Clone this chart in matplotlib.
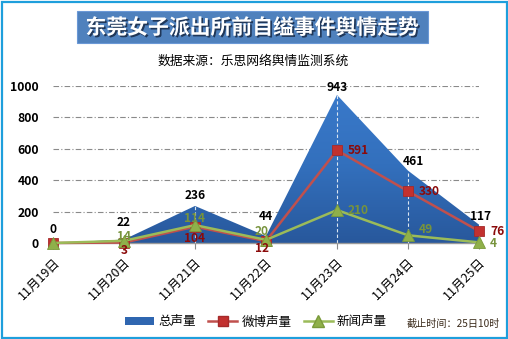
import numpy as np
import matplotlib
matplotlib.use("Agg")
import matplotlib.pyplot as plt
import matplotlib.patheffects as pe
from matplotlib.colors import LinearSegmentedColormap
from matplotlib.patches import Rectangle
from matplotlib.lines import Line2D

plt.rcParams['font.family'] = ['Noto Sans CJK SC', 'DejaVu Sans']

# ---- data ----
dates = ["11月19日", "11月20日", "11月21日", "11月22日", "11月23日", "11月24日", "11月25日"]
total_volume = [0, 22, 236, 44, 943, 461, 117]
weibo_volume = [0, 3, 104, 12, 591, 330, 76]
news_volume = [0, 14, 114, 20, 210, 49, 4]
y_ticks = [0, 200, 400, 600, 800, 1000]

title = "东莞女子派出所前自缢事件舆情走势"
subtitle = "数据来源：乐思网络舆情监测系统"
series_names = ["总声量", "微博声量", "新闻声量"]
cutoff_note = "截止时间：25日10时"

# label offsets in pixels (dx, dy) for each category
total_offsets = [(0, 7), (0, 11), (0, 4), (0, 13), (0, 1), (5, 3), (2, 2)]
weibo_offsets = [None, (0, -1), (0, -5), (-4, -1), (11, 0), (11, 0), (11, 0)]
news_offsets = [None, (0, -2), (0, 0), (-4, 2), (11, 0), (11, 6), (11, -1)]

W, H = 508, 339
fig = plt.figure(figsize=(W / 100, H / 100), dpi=100)
fig.patch.set_facecolor("white")

# outer frame
fig.add_artist(Rectangle((1.5 / W, 1.5 / H), (W - 3) / W, (H - 3) / H,
                         transform=fig.transFigure, fill=False,
                         edgecolor="#1e9fdc", lw=1.6))

# title banner
fig.add_artist(Rectangle((77 / W, 1 - 43 / H), 351 / W, 32 / H,
                         transform=fig.transFigure, facecolor="#4f81bd",
                         edgecolor="#6a98d6", lw=0.8))
fig.text(252.5 / W, 1 - 27.5 / H, title, ha="center", va="center",
         color="white", fontsize=15, fontweight="bold",
         path_effects=[pe.SimplePatchShadow(offset=(1.2, -1.2),
                                            shadow_rgbFace="#1b2f4d", alpha=0.9),
                       pe.Normal()])
fig.text(253 / W, 1 - 61 / H, subtitle, ha="center", va="center",
         color="black", fontsize=9.2)

# plotting area
ax = fig.add_axes([53 / W, (H - 243) / H, (479 - 53) / W, (243 - 86) / H])
ax.set_facecolor("none")
x = np.arange(len(dates))
ymax = y_ticks[-1]

# area with a soft vertical gradient
poly = ax.fill_between(x, total_volume, 0, facecolor="none", lw=0, zorder=1)
grad = np.linspace(0, 1, 256).reshape(-1, 1)
cmap = LinearSegmentedColormap.from_list("area", ["#28589c", "#3370bd", "#3a7acb"])
im = ax.imshow(grad, extent=[x[0], x[-1], 0, ymax], origin="lower",
               aspect="auto", cmap=cmap, zorder=1)
im.set_clip_path(poly.get_paths()[0], transform=ax.transData)

# drop lines inside the area
ax.vlines(x, 0, total_volume, colors="#dbe6f2", linestyles=(0, (3, 2)),
          lw=0.8, zorder=2)

# horizontal grid
for yv in y_ticks[1:]:
    ax.axhline(yv, color="#8a8a8a", lw=0.8, ls=(0, (5, 2, 1, 2)), zorder=0)

# lines
ax.plot(x, weibo_volume, color="#c0504d", lw=1.8, marker="s", ms=7.5,
        mfc="#c2312f", mec="#a52a2a", mew=0.6, zorder=4, clip_on=False)
ax.plot(x, news_volume, color="#9bbb59", lw=1.8, marker="^", ms=8,
        mfc="#8fb04a", mec="#7a9a3a", mew=0.6, zorder=5, clip_on=False)

ax.set_xlim(x[0], x[-1])
ax.set_ylim(0, ymax)
ax.set_yticks(y_ticks)
ax.set_yticklabels([str(v) for v in y_ticks], fontsize=8.8, fontweight="bold")
ax.tick_params(axis="y", length=0, pad=10)
ax.set_xticks(x)
ax.set_xticklabels(dates, rotation=45, ha="right", va="top",
                   rotation_mode="anchor", fontsize=9)
ax.tick_params(axis="x", length=4, color="#8a8a8a", pad=5)
for s in ["top", "right", "left"]:
    ax.spines[s].set_visible(False)
ax.spines["bottom"].set_color("#9a9a9a")
ax.spines["bottom"].set_linewidth(1.0)
ax.spines["bottom"].set_zorder(3)

# value labels
lab_kw = dict(textcoords="offset pixels", fontsize=8.6, fontweight="bold",
              annotation_clip=False, zorder=6)
for i, v in enumerate(total_volume):
    ax.annotate(str(v), (x[i], v), xytext=total_offsets[i], ha="center",
                va="bottom", color="black", **lab_kw)
for i in range(1, len(x)):
    w, n = weibo_volume[i], news_volume[i]
    if i < 4:
        ax.annotate(str(w), (x[i], w), xytext=weibo_offsets[i], ha="center",
                    va="top", color="#8b0a0a", **lab_kw)
        ax.annotate(str(n), (x[i], n), xytext=news_offsets[i], ha="center",
                    va="bottom", color="#77933c", **lab_kw)
    else:
        ax.annotate(str(w), (x[i], w), xytext=weibo_offsets[i], ha="left",
                    va="center", color="#8b0a0a", **lab_kw)
        ax.annotate(str(n), (x[i], n), xytext=news_offsets[i], ha="left",
                    va="center", color="#77933c", **lab_kw)

# legend
handles = [
    Rectangle((0, 0), 1, 1, facecolor="#2f66b0", edgecolor="none"),
    Line2D([], [], color="#c0504d", lw=1.8, marker="s", ms=7.5,
           mfc="#c2312f", mec="#a52a2a"),
    Line2D([], [], color="#9bbb59", lw=1.8, marker="^", ms=8,
           mfc="#8fb04a", mec="#7a9a3a"),
]
leg = fig.legend(handles, series_names, loc="center", ncol=3,
                 bbox_to_anchor=(256 / W, 1 - 322 / H), frameon=False,
                 fontsize=9, handlelength=2.3, handleheight=0.6,
                 handletextpad=0.35, columnspacing=1.0)

fig.text(500 / W, 1 - 324 / H, cutoff_note, ha="right", va="center",
         fontsize=7.3, color="#3a2a1a")

fig.savefig("out.png", dpi=100, facecolor="white")
